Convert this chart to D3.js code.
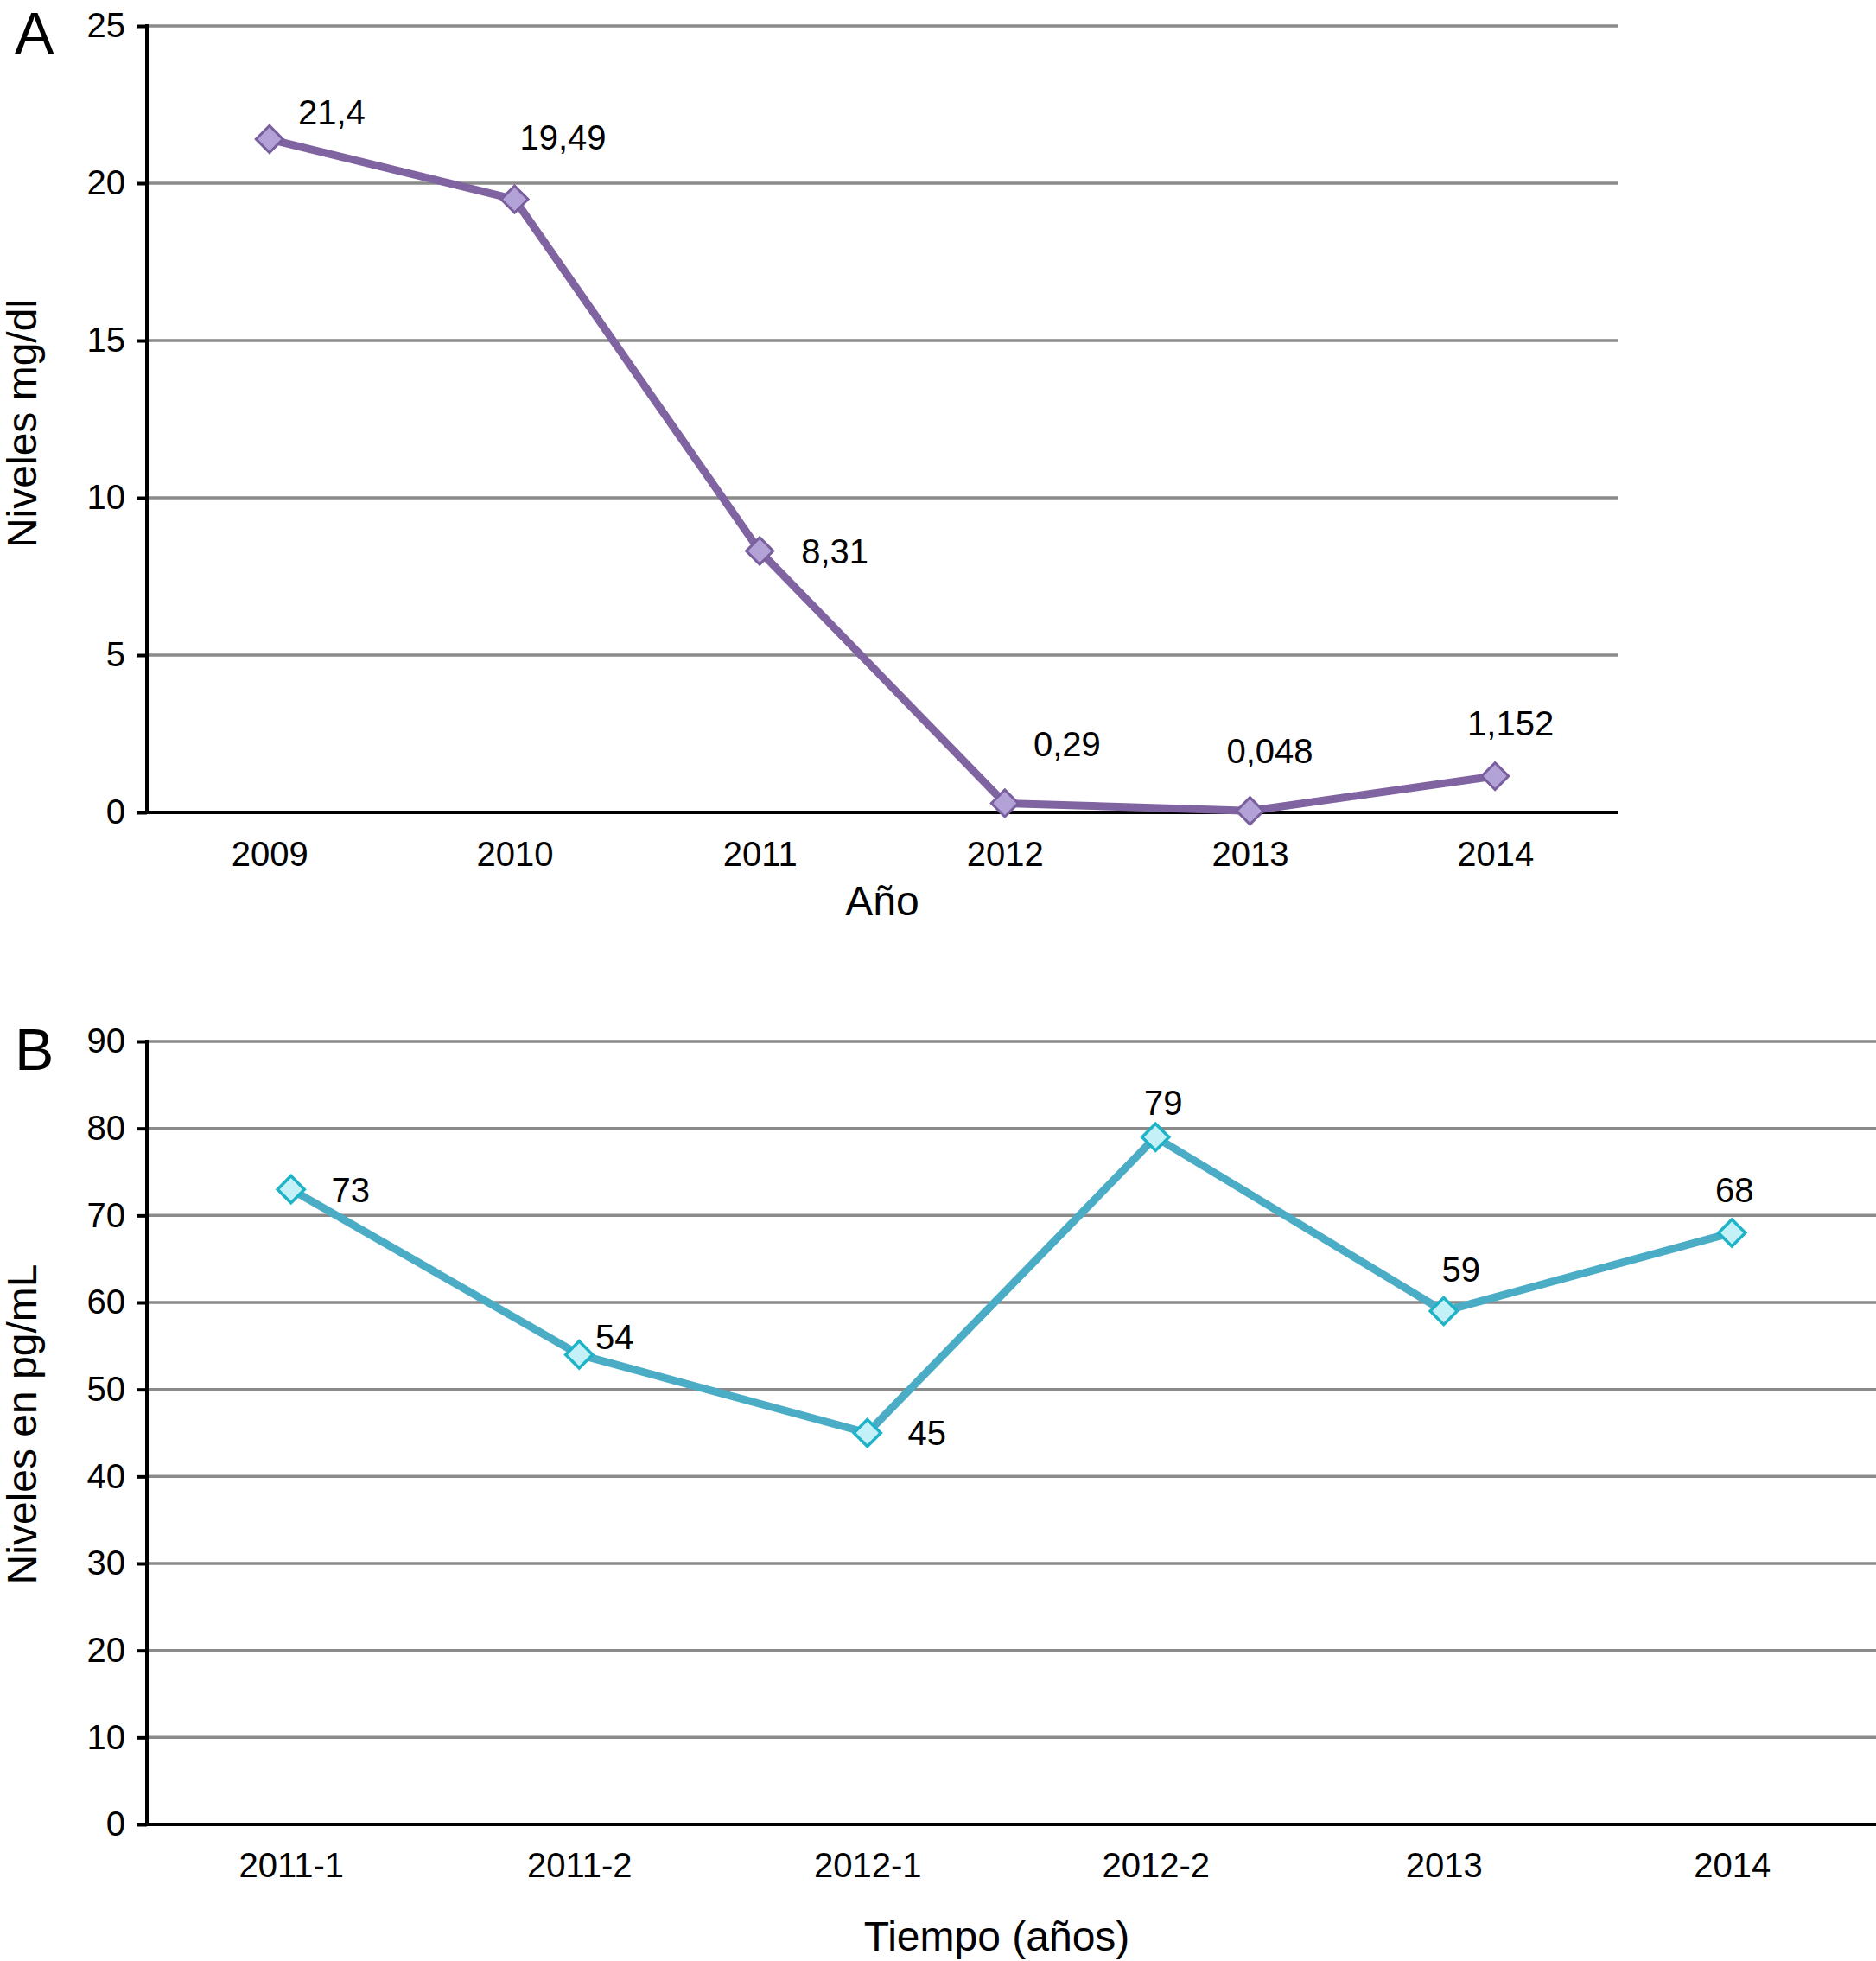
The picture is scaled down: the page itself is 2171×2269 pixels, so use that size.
<!DOCTYPE html>
<html>
<head>
<meta charset="utf-8">
<script src="https://cdn.jsdelivr.net/npm/d3@7"></script>
<style>
  body { margin: 0; background: #fff; }
  svg { display: block; }
  text { font-family: "Liberation Sans", Arial, Helvetica, sans-serif; fill: #000; }
</style>
</head>
<body>
<svg id="chart" width="2171" height="2269"></svg>
<script>
// panel A
const yearsA = ['2009', '2010', '2011', '2012', '2013', '2014'];
const valuesA = [21.4, 19.49, 8.31, 0.29, 0.048, 1.152];
const labelsA = ['21,4', '19,49', '8,31', '0,29', '0,048', '1,152'];
const ticksA = [0, 5, 10, 15, 20, 25];

// panel B
const periodsB = ['2011-1', '2011-2', '2012-1', '2012-2', '2013', '2014'];
const valuesB = [73, 54, 45, 79, 59, 68];
const labelsB = ['73', '54', '45', '79', '59', '68'];
const ticksB = [0, 10, 20, 30, 40, 50, 60, 70, 80, 90];

// where each value label sits relative to its marker (label centre)
const labelOffsetA = [[72, -31], [56, -72], [87, 0], [72, -69], [23, -70], [18, -61]];
const labelOffsetB = [[69, 0], [41, -21], [69, 0], [9, -40], [20, -48], [3, -50]];

let svg = d3.select('#chart');

function drawPanel(opts) {
  let g = svg.append('g');
  let x = d3.scalePoint().domain(opts.cats).range([opts.left, opts.right]).padding(0.5);
  let y = d3.scaleLinear().domain([0, opts.max]).range([opts.bottom, opts.top]);

  // gridlines
  g.append('g')
    .selectAll('line')
    .data(opts.ticks.filter((t) => t > 0))
    .enter()
    .append('line')
    .attr('x1', opts.left)
    .attr('x2', opts.right)
    .attr('y1', (d) => y(d))
    .attr('y2', (d) => y(d))
    .attr('stroke', '#8a8a8a')
    .attr('stroke-width', 3.5);

  // y axis
  let yAxis = g.append('g')
    .attr('transform', 'translate(' + opts.left + ',0)')
    .call(d3.axisLeft(y).tickValues(opts.ticks).tickSize(12).tickSizeOuter(0).tickPadding(13).tickFormat(d3.format('d')));
  yAxis.select('.domain').remove();
  yAxis.selectAll('.tick line').attr('stroke', '#000').attr('stroke-width', 4);
  yAxis.selectAll('.tick text').attr('font-size', 40).attr('font-family', null);
  g.append('line')
    .attr('x1', opts.left).attr('x2', opts.left)
    .attr('y1', opts.top - 2).attr('y2', opts.bottom)
    .attr('stroke', '#000').attr('stroke-width', 4);

  // x axis
  let xAxis = g.append('g')
    .attr('transform', 'translate(0,' + opts.bottom + ')')
    .call(d3.axisBottom(x).tickSize(0).tickPadding(opts.xPad));
  xAxis.select('.domain').remove();
  xAxis.selectAll('.tick text').attr('font-size', 40).attr('font-family', null);
  g.append('line')
    .attr('x1', opts.left - 12).attr('x2', opts.right)
    .attr('y1', opts.bottom).attr('y2', opts.bottom)
    .attr('stroke', '#000').attr('stroke-width', 4);

  // axis titles
  g.append('text')
    .attr('x', (opts.left + opts.right) / 2 + opts.xTitleShift)
    .attr('y', opts.xTitleY)
    .attr('text-anchor', 'middle')
    .attr('font-size', 48)
    .text(opts.xTitle);
  g.append('text')
    .attr('transform', 'translate(42,' + opts.yTitleY + ') rotate(-90)')
    .attr('text-anchor', 'middle')
    .attr('font-size', 48)
    .text(opts.yTitle);

  // panel letter
  g.append('text')
    .attr('x', 17)
    .attr('y', opts.letterY)
    .attr('font-size', 68)
    .text(opts.letter);

  let pts = opts.cats.map((c, i) => [x(c), y(opts.values[i])]);

  // series line
  g.append('path')
    .datum(pts)
    .attr('d', d3.line())
    .attr('fill', 'none')
    .attr('stroke', opts.lineColor)
    .attr('stroke-width', 9)
    .attr('stroke-linejoin', 'round');

  // diamond markers
  g.append('g')
    .selectAll('path')
    .data(pts)
    .enter()
    .append('path')
    .attr('d', d3.symbol(d3.symbolSquare, 22 * 22))
    .attr('transform', (d) => 'translate(' + d[0] + ',' + d[1] + ') rotate(45)')
    .attr('fill', opts.markerFill)
    .attr('stroke', opts.markerStroke)
    .attr('stroke-width', opts.markerStrokeWidth);

  // value labels
  g.append('g')
    .selectAll('text')
    .data(pts)
    .enter()
    .append('text')
    .attr('x', (d, i) => d[0] + opts.offsets[i][0])
    .attr('y', (d, i) => d[1] + opts.offsets[i][1])
    .attr('dy', '0.36em')
    .attr('text-anchor', 'middle')
    .attr('font-size', 40)
    .text((d, i) => opts.labels[i]);
}

drawPanel({
  cats: yearsA, values: valuesA, labels: labelsA, ticks: ticksA, max: 25,
  offsets: labelOffsetA,
  left: 170, right: 1872, top: 30, bottom: 940, xPad: 34,
  xTitle: 'Año', xTitleY: 1059, xTitleShift: 0,
  yTitle: 'Niveles mg/dl', yTitleY: 490,
  letter: 'A', letterY: 62,
  lineColor: '#8064a2', markerFill: '#b3a2d6', markerStroke: '#7a5f9e', markerStrokeWidth: 3
});

drawPanel({
  cats: periodsB, values: valuesB, labels: labelsB, ticks: ticksB, max: 90,
  offsets: labelOffsetB,
  left: 170, right: 2171, top: 1205, bottom: 2111, xPad: 33,
  xTitle: 'Tiempo (años)', xTitleY: 2257, xTitleShift: -17,
  yTitle: 'Niveles en pg/mL', yTitleY: 1648,
  letter: 'B', letterY: 1238,
  lineColor: '#4bacc6', markerFill: '#c4f1f7', markerStroke: '#1fb3c8', markerStrokeWidth: 3.5
});
</script>
</body>
</html>
